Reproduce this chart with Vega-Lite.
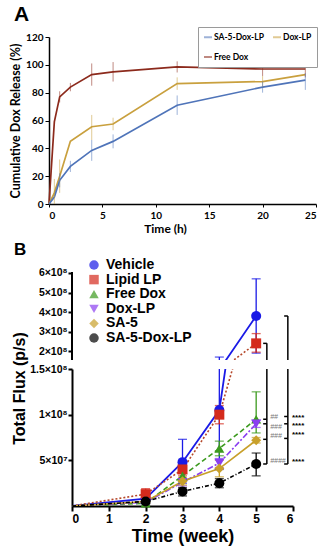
{
  "$schema": "https://vega.github.io/schema/vega-lite/v6.json",
  "background": "white",
  "padding": {"top": 3, "left": 9, "right": 2, "bottom": 2},
  "bounds": "flush",
  "center": true,
  "spacing": 9,
  "config": {
    "view": {"stroke": null},
    "axis": {"grid": false, "domainColor": "#000", "tickColor": "#000", "labelColor": "#000", "titleColor": "#000", "labelOverlap": false}
  },
  "resolve": {"scale": {"color": "independent", "shape": "independent"}},
  "datasets": {
    "rel": [
      {"s": "Free Dox", "t": 0, "v": 0, "lo": 0, "hi": 0},
      {"s": "Free Dox", "t": 0.5, "v": 59, "lo": 59, "hi": 59},
      {"s": "Free Dox", "t": 1, "v": 77, "lo": 73, "hi": 81},
      {"s": "Free Dox", "t": 2, "v": 84, "lo": 81, "hi": 87},
      {"s": "Free Dox", "t": 4, "v": 93, "lo": 85, "hi": 101},
      {"s": "Free Dox", "t": 6, "v": 95, "lo": 88, "hi": 102},
      {"s": "Free Dox", "t": 12, "v": 98.5, "lo": 94.5, "hi": 102.5},
      {"s": "Free Dox", "t": 20, "v": 97, "lo": 92, "hi": 102},
      {"s": "Free Dox", "t": 24, "v": 97, "lo": 91, "hi": 103},
      {"s": "Dox-LP", "t": 0, "v": 0, "lo": 0, "hi": 0},
      {"s": "Dox-LP", "t": 0.5, "v": 8, "lo": 0, "hi": 18},
      {"s": "Dox-LP", "t": 1, "v": 20, "lo": 8, "hi": 32},
      {"s": "Dox-LP", "t": 2, "v": 45, "lo": 45, "hi": 45},
      {"s": "Dox-LP", "t": 4, "v": 55.5, "lo": 46, "hi": 64},
      {"s": "Dox-LP", "t": 6, "v": 57.5, "lo": 53, "hi": 62},
      {"s": "Dox-LP", "t": 12, "v": 86.5, "lo": 82, "hi": 91},
      {"s": "Dox-LP", "t": 20, "v": 88, "lo": 84, "hi": 92},
      {"s": "Dox-LP", "t": 24, "v": 93, "lo": 93, "hi": 93},
      {"s": "SA-5-Dox-LP", "t": 0, "v": 0, "lo": 0, "hi": 0},
      {"s": "SA-5-Dox-LP", "t": 0.5, "v": 5, "lo": 5, "hi": 5},
      {"s": "SA-5-Dox-LP", "t": 1, "v": 17, "lo": 12, "hi": 22},
      {"s": "SA-5-Dox-LP", "t": 2, "v": 27, "lo": 23, "hi": 31},
      {"s": "SA-5-Dox-LP", "t": 4, "v": 38.5, "lo": 31, "hi": 46},
      {"s": "SA-5-Dox-LP", "t": 6, "v": 45, "lo": 40, "hi": 50},
      {"s": "SA-5-Dox-LP", "t": 12, "v": 71, "lo": 64, "hi": 78},
      {"s": "SA-5-Dox-LP", "t": 20, "v": 84, "lo": 80, "hi": 88},
      {"s": "SA-5-Dox-LP", "t": 24, "v": 89, "lo": 82, "hi": 94}
    ],
    "flux": [
      {"s": "Vehicle", "w": 0, "v": 0, "lo": 0, "hi": 0},
      {"s": "Vehicle", "w": 2, "v": 8000000, "lo": 5000000, "hi": 11000000},
      {"s": "Vehicle", "w": 3, "v": 48000000, "lo": 25000000, "hi": 73000000},
      {"s": "Vehicle", "w": 4, "v": 105000000, "lo": 40000000, "hi": 170000000},
      {"s": "Vehicle", "w": 5, "v": 380000000, "lo": 190000000, "hi": 570000000},
      {"s": "Lipid LP", "w": 0, "v": 0, "lo": 0, "hi": 0},
      {"s": "Lipid LP", "w": 2, "v": 13000000, "lo": 8000000, "hi": 19000000},
      {"s": "Lipid LP", "w": 3, "v": 40000000, "lo": 33000000, "hi": 46000000},
      {"s": "Lipid LP", "w": 4, "v": 100000000, "lo": 90000000, "hi": 110000000},
      {"s": "Lipid LP", "w": 5, "v": 240000000, "lo": 195000000, "hi": 290000000},
      {"s": "Free Dox", "w": 0, "v": 0, "lo": 0, "hi": 0},
      {"s": "Free Dox", "w": 2, "v": 3000000, "lo": 1000000, "hi": 5000000},
      {"s": "Free Dox", "w": 3, "v": 33000000, "lo": 28000000, "hi": 38000000},
      {"s": "Free Dox", "w": 4, "v": 63000000, "lo": 55000000, "hi": 71000000},
      {"s": "Free Dox", "w": 5, "v": 95000000, "lo": 80000000, "hi": 125000000},
      {"s": "Dox-LP", "w": 0, "v": 0, "lo": 0, "hi": 0},
      {"s": "Dox-LP", "w": 2, "v": 4000000, "lo": 2000000, "hi": 6000000},
      {"s": "Dox-LP", "w": 3, "v": 26000000, "lo": 22000000, "hi": 30000000},
      {"s": "Dox-LP", "w": 4, "v": 47000000, "lo": 42000000, "hi": 52000000},
      {"s": "Dox-LP", "w": 5, "v": 90000000, "lo": 86000000, "hi": 94000000},
      {"s": "SA-5", "w": 0, "v": 0, "lo": 0, "hi": 0},
      {"s": "SA-5", "w": 2, "v": 5000000, "lo": 3000000, "hi": 7000000},
      {"s": "SA-5", "w": 3, "v": 27000000, "lo": 23000000, "hi": 31000000},
      {"s": "SA-5", "w": 4, "v": 41000000, "lo": 32000000, "hi": 50000000},
      {"s": "SA-5", "w": 5, "v": 72000000, "lo": 69000000, "hi": 75000000},
      {"s": "SA-5-Dox-LP", "w": 0, "v": 0, "lo": 0, "hi": 0},
      {"s": "SA-5-Dox-LP", "w": 2, "v": 5000000, "lo": 3000000, "hi": 7000000},
      {"s": "SA-5-Dox-LP", "w": 3, "v": 16000000, "lo": 11000000, "hi": 20000000},
      {"s": "SA-5-Dox-LP", "w": 4, "v": 25000000, "lo": 20000000, "hi": 30000000},
      {"s": "SA-5-Dox-LP", "w": 5, "v": 46000000, "lo": 33000000, "hi": 58000000}
    ],
    "brk": [
      {"x1": 5.19, "x2": 5.29, "y1": 240000000, "y2": 240000000},
      {"x1": 5.29, "x2": 5.29, "y1": 240000000, "y2": 46000000},
      {"x1": 5.19, "x2": 5.29, "y1": 95000000, "y2": 95000000},
      {"x1": 5.19, "x2": 5.29, "y1": 90000000, "y2": 90000000},
      {"x1": 5.19, "x2": 5.29, "y1": 73000000, "y2": 73000000},
      {"x1": 5.19, "x2": 5.29, "y1": 46000000, "y2": 46000000},
      {"x1": 5.76, "x2": 5.86, "y1": 380000000, "y2": 380000000},
      {"x1": 5.86, "x2": 5.86, "y1": 380000000, "y2": 46000000},
      {"x1": 5.76, "x2": 5.86, "y1": 98000000, "y2": 98000000},
      {"x1": 5.76, "x2": 5.86, "y1": 90000000, "y2": 90000000},
      {"x1": 5.76, "x2": 5.86, "y1": 74000000, "y2": 74000000},
      {"x1": 5.76, "x2": 5.86, "y1": 46000000, "y2": 46000000}
    ],
    "axl": [
      {"x1": 0, "y1": 155000000, "y2": 605000000}
    ],
    "sig": [
      {"k": "h", "lab": "##", "x": 5.38, "y": 97500000},
      {"k": "h", "lab": "###", "x": 5.38, "y": 87000000},
      {"k": "h", "lab": "###", "x": 5.38, "y": 77000000},
      {"k": "h", "lab": "####", "x": 5.38, "y": 49000000},
      {"k": "a", "lab": "****", "x": 5.97, "y": 99000000},
      {"k": "a", "lab": "****", "x": 5.97, "y": 89500000},
      {"k": "a", "lab": "****", "x": 5.97, "y": 79500000},
      {"k": "a", "lab": "****", "x": 5.97, "y": 50000000}
    ]
  },
  "vconcat": [
    {
      "width": 267,
      "height": 167,
      "title": {"text": "A", "anchor": "start", "frame": "group", "dx": -35, "offset": 2, "fontSize": 21, "font": "Liberation Sans", "fontWeight": "bold", "color": "#000"},
      "data": {"name": "rel"},
      "encoding": {
        "x": {"field": "t", "type": "quantitative", "scale": {"domain": [0, 25], "nice": false},
          "axis": {"title": "Time (h)", "values": [0, 5, 10, 15, 20, 25], "labelOverlap": false, "titleX": 116, "labelFont": "Lato", "labelFontWeight": "bold", "labelFontSize": 10, "titleFont": "Lato", "titleFontWeight": "bold", "titleFontSize": 12, "tickSize": 3, "domainWidth": 1.5, "labelPadding": 3, "titlePadding": 3}},
        "y": {"field": "v", "type": "quantitative", "scale": {"domain": [0, 120], "nice": false},
          "axis": {"title": "Cumulative  Dox Release (%)", "values": [0, 20, 40, 60, 80, 100, 120], "labelOverlap": false, "labelFont": "Lato", "labelFontWeight": "bold", "labelFontSize": 10, "titleFont": "Lato", "titleFontWeight": "bold", "titleFontSize": 12.5, "tickSize": 4, "domainWidth": 1.5, "labelPadding": 2, "titlePadding": 3}},
        "color": {"field": "s", "type": "nominal", "scale": {"domain": ["SA-5-Dox-LP", "Free Dox", "Dox-LP"], "range": ["#4f74b9", "#8c2a1c", "#c9a03e"]},
          "legend": {"orient": "none", "legendX": 149, "legendY": -10, "columns": 2, "title": null, "symbolType": "stroke", "symbolSize": 64, "symbolStrokeWidth": 2, "labelFont": "Lato", "labelFontSize": 8.5, "labelFontWeight": "bold", "labelColor": "#000", "padding": 5, "strokeColor": "#9a9a9a", "fillColor": "white", "rowPadding": 10, "columnPadding": 5, "labelOffset": 1}}
      },
      "layer": [
        {
          "mark": {"type": "line", "strokeWidth": 1.7}
        },
        {
          "mark": {"type": "rule", "strokeWidth": 1, "opacity": 0.55},
          "encoding": {
            "y": {"field": "lo", "type": "quantitative", "axis": {"title": "Cumulative  Dox Release (%)", "values": [0, 20, 40, 60, 80, 100, 120], "labelOverlap": false}},
            "y2": {"field": "hi"}
          }
        }
      ]
    },
    {
      "width": 221,
      "height": 147,
      "title": {"text": "B", "anchor": "start", "frame": "group", "dx": -58, "dy": 46, "offset": 0, "fontSize": 17, "font": "Liberation Sans", "fontWeight": "bold", "color": "#000"},
      "data": {"name": "flux"},
      "encoding": {
        "x": {"field": "w", "type": "quantitative", "scale": {"domain": [0, 6], "nice": false, "zero": false}, "axis": null},
        "y": {"field": "v", "type": "quantitative", "scale": {"domain": [155000000, 906500000], "nice": false, "zero": false},
          "axis": {"title": null, "domain": false, "values": [200000000, 300000000, 400000000, 500000000, 600000000], "labelOverlap": false, "labelExpr": "(datum.value/100000000) + '×10⁸'", "labelFont": "Liberation Sans", "labelFontWeight": "bold", "labelFontSize": 10.5, "tickWidth": 2, "tickSize": 4, "labelPadding": 1}},
        "color": {"field": "s", "type": "nominal", "scale": {"domain": ["Vehicle", "Lipid LP", "Free Dox", "Dox-LP", "SA-5", "SA-5-Dox-LP"], "range": ["#1a1ae6", "#d42a1c", "#3c9a1e", "#8a3ef0", "#c8a02a", "#000000"]},
          "legend": {"orient": "none", "legendX": 15, "legendY": 45, "title": null, "labelFont": "Liberation Sans", "labelFontSize": 14, "labelFontWeight": "bold", "labelColor": "#000", "symbolSize": 90, "rowPadding": 0.6, "labelOffset": 5, "padding": 0, "symbolStrokeWidth": 0}}
      },
      "layer": [
        {"transform": [{"filter": "datum.s == 'Vehicle'"}], "mark": {"type": "line", "clip": true, "strokeWidth": 1.8}},
        {"transform": [{"filter": "datum.s == 'Lipid LP'"}], "mark": {"type": "line", "clip": true, "strokeWidth": 1.6, "strokeDash": [2, 2]}, "encoding": {"color": {"value": "#b5472a"}}},
        {"transform": [{"filter": "datum.s == 'Free Dox'"}], "mark": {"type": "line", "clip": true, "strokeWidth": 1.6, "strokeDash": [5, 3]}},
        {"transform": [{"filter": "datum.s == 'Dox-LP'"}], "mark": {"type": "line", "clip": true, "strokeWidth": 1.6, "strokeDash": [6, 2, 2, 2]}},
        {"transform": [{"filter": "datum.s == 'SA-5'"}], "mark": {"type": "line", "clip": true, "strokeWidth": 1.6}},
        {"transform": [{"filter": "datum.s == 'SA-5-Dox-LP'"}], "mark": {"type": "line", "clip": true, "strokeWidth": 1.6, "strokeDash": [4, 2, 1, 2]}},
        {
          "transform": [{"filter": "datum.w > 0"}],
          "mark": {"type": "rule", "clip": true, "strokeWidth": 1.3},
          "encoding": {
            "y": {"field": "lo", "type": "quantitative", "axis": {"title": null, "values": [200000000, 300000000, 400000000, 500000000, 600000000], "labelOverlap": false}},
            "y2": {"field": "hi"}
          }
        },
        {
          "transform": [{"filter": "datum.w > 0"}],
          "mark": {"type": "tick", "orient": "horizontal", "clip": true, "size": 9, "thickness": 1.3},
          "encoding": {
            "y": {"field": "lo", "type": "quantitative", "axis": {"title": null, "values": [200000000, 300000000, 400000000, 500000000, 600000000], "labelOverlap": false}}
          }
        },
        {
          "transform": [{"filter": "datum.w > 0"}],
          "mark": {"type": "tick", "orient": "horizontal", "clip": true, "size": 9, "thickness": 1.3},
          "encoding": {
            "y": {"field": "hi", "type": "quantitative", "axis": {"title": null, "values": [200000000, 300000000, 400000000, 500000000, 600000000], "labelOverlap": false}}
          }
        },
        {
          "transform": [{"filter": "datum.w > 0 && datum.v >= 155000000"}],
          "mark": {"type": "point", "filled": true, "opacity": 1, "size": 100},
          "encoding": {
            "shape": {"field": "s", "type": "nominal", "scale": {"domain": ["Vehicle", "Lipid LP", "Free Dox", "Dox-LP", "SA-5", "SA-5-Dox-LP"], "range": ["circle", "square", "triangle-up", "triangle-down", "diamond", "circle"]},
              "legend": {"orient": "none", "legendX": 15, "legendY": 45, "title": null, "labelFont": "Liberation Sans", "labelFontSize": 14, "labelFontWeight": "bold", "labelColor": "#000", "symbolSize": 90, "rowPadding": 0.6, "labelOffset": 5, "padding": 0, "symbolStrokeWidth": 0}}
          }
        },
        {
          "data": {"name": "brk"},
          "mark": {"type": "rule", "clip": true, "strokeWidth": 1.5},
          "encoding": {
            "x": {"field": "x1", "type": "quantitative"},
            "x2": {"field": "x2"},
            "y": {"field": "y1", "type": "quantitative", "axis": {"title": null, "values": [200000000, 300000000, 400000000, 500000000, 600000000], "labelOverlap": false}},
            "y2": {"field": "y2"},
            "color": {"value": "#000"}
          }
        },
        {
          "data": {"name": "axl"},
          "mark": {"type": "rule", "strokeWidth": 2},
          "encoding": {
            "x": {"field": "x1", "type": "quantitative"},
            "y": {"field": "y1", "type": "quantitative", "axis": {"title": null, "values": [200000000, 300000000, 400000000, 500000000, 600000000], "labelOverlap": false}},
            "y2": {"field": "y2"},
            "color": {"value": "#000"}
          }
        }
      ]
    },
    {
      "width": 221,
      "height": 137,
      "data": {"name": "flux"},
      "encoding": {
        "x": {"field": "w", "type": "quantitative", "scale": {"domain": [0, 6], "nice": false, "zero": false},
          "axis": {"title": "Time (week)", "values": [0, 1, 2, 3, 4, 5, 6], "labelOverlap": false, "format": "d", "labelFont": "Liberation Sans", "labelFontWeight": "bold", "labelFontSize": 12, "titleFont": "Liberation Sans", "titleFontWeight": "bold", "titleFontSize": 18, "domainWidth": 2, "tickWidth": 2, "tickSize": 5, "labelPadding": 2, "titlePadding": 3}},
        "y": {"field": "v", "type": "quantitative", "scale": {"domain": [0, 150000000], "nice": false},
          "axis": {"title": "Total Flux (p/s)", "values": [50000000, 100000000, 150000000], "labelOverlap": false, "labelExpr": "datum.value == 50000000 ? '5×10⁷' : datum.value == 100000000 ? '1×10⁸' : '1.5×10⁸'", "labelFont": "Liberation Sans", "labelFontWeight": "bold", "labelFontSize": 10.5, "titleFont": "Liberation Sans", "titleFontWeight": "bold", "titleFontSize": 16, "titleY": 19, "titlePadding": 2, "domainWidth": 2, "tickWidth": 2, "tickSize": 4, "labelPadding": 1}},
        "color": {"field": "s", "type": "nominal", "scale": {"domain": ["Vehicle", "Lipid LP", "Free Dox", "Dox-LP", "SA-5", "SA-5-Dox-LP"], "range": ["#1a1ae6", "#d42a1c", "#3c9a1e", "#8a3ef0", "#c8a02a", "#000000"]}, "legend": null}
      },
      "layer": [
        {"transform": [{"filter": "datum.s == 'Vehicle'"}], "mark": {"type": "line", "clip": true, "strokeWidth": 1.8}},
        {"transform": [{"filter": "datum.s == 'Lipid LP'"}], "mark": {"type": "line", "clip": true, "strokeWidth": 1.6, "strokeDash": [2, 2]}, "encoding": {"color": {"value": "#b5472a"}}},
        {"transform": [{"filter": "datum.s == 'Free Dox'"}], "mark": {"type": "line", "clip": true, "strokeWidth": 1.6, "strokeDash": [5, 3]}},
        {"transform": [{"filter": "datum.s == 'Dox-LP'"}], "mark": {"type": "line", "clip": true, "strokeWidth": 1.6, "strokeDash": [6, 2, 2, 2]}},
        {"transform": [{"filter": "datum.s == 'SA-5'"}], "mark": {"type": "line", "clip": true, "strokeWidth": 1.6}},
        {"transform": [{"filter": "datum.s == 'SA-5-Dox-LP'"}], "mark": {"type": "line", "clip": true, "strokeWidth": 1.6, "strokeDash": [4, 2, 1, 2]}},
        {
          "transform": [{"filter": "datum.w > 0"}],
          "mark": {"type": "rule", "clip": true, "strokeWidth": 1.3},
          "encoding": {
            "y": {"field": "lo", "type": "quantitative", "axis": {"title": "Total Flux (p/s)", "values": [50000000, 100000000, 150000000], "labelOverlap": false}},
            "y2": {"field": "hi"}
          }
        },
        {
          "transform": [{"filter": "datum.w > 0"}],
          "mark": {"type": "tick", "orient": "horizontal", "clip": true, "size": 9, "thickness": 1.3},
          "encoding": {
            "y": {"field": "lo", "type": "quantitative", "axis": {"title": "Total Flux (p/s)", "values": [50000000, 100000000, 150000000], "labelOverlap": false}}
          }
        },
        {
          "transform": [{"filter": "datum.w > 0"}],
          "mark": {"type": "tick", "orient": "horizontal", "clip": true, "size": 9, "thickness": 1.3},
          "encoding": {
            "y": {"field": "hi", "type": "quantitative", "axis": {"title": "Total Flux (p/s)", "values": [50000000, 100000000, 150000000], "labelOverlap": false}}
          }
        },
        {
          "transform": [{"filter": "datum.w > 0 && datum.v <= 150000000"}],
          "mark": {"type": "point", "filled": true, "opacity": 1, "size": 100},
          "encoding": {
            "shape": {"field": "s", "type": "nominal", "scale": {"domain": ["Vehicle", "Lipid LP", "Free Dox", "Dox-LP", "SA-5", "SA-5-Dox-LP"], "range": ["circle", "square", "triangle-up", "triangle-down", "diamond", "circle"]}, "legend": null}
          }
        },
        {
          "data": {"name": "brk"},
          "mark": {"type": "rule", "clip": true, "strokeWidth": 1.5},
          "encoding": {
            "x": {"field": "x1", "type": "quantitative", "axis": {"title": "Time (week)", "values": [0, 1, 2, 3, 4, 5, 6], "labelOverlap": false}},
            "x2": {"field": "x2"},
            "y": {"field": "y1", "type": "quantitative", "axis": {"title": "Total Flux (p/s)", "values": [50000000, 100000000, 150000000], "labelOverlap": false}},
            "y2": {"field": "y2"},
            "color": {"value": "#000"}
          }
        },
        {
          "data": {"name": "sig"},
          "transform": [{"filter": "datum.k == 'h'"}],
          "mark": {"type": "text", "align": "left", "baseline": "middle", "font": "Liberation Sans", "fontSize": 7, "fontStyle": "italic"},
          "encoding": {
            "x": {"field": "x", "type": "quantitative", "axis": {"title": "Time (week)", "values": [0, 1, 2, 3, 4, 5, 6], "labelOverlap": false}},
            "y": {"field": "y", "type": "quantitative", "axis": {"title": "Total Flux (p/s)", "values": [50000000, 100000000, 150000000], "labelOverlap": false}},
            "text": {"field": "lab"},
            "color": {"value": "#777"}
          }
        },
        {
          "data": {"name": "sig"},
          "transform": [{"filter": "datum.k == 'a'"}],
          "mark": {"type": "text", "align": "left", "baseline": "middle", "dy": 2, "font": "Liberation Sans", "fontSize": 8, "fontWeight": "bold"},
          "encoding": {
            "x": {"field": "x", "type": "quantitative", "axis": {"title": "Time (week)", "values": [0, 1, 2, 3, 4, 5, 6], "labelOverlap": false}},
            "y": {"field": "y", "type": "quantitative", "axis": {"title": "Total Flux (p/s)", "values": [50000000, 100000000, 150000000], "labelOverlap": false}},
            "text": {"field": "lab"},
            "color": {"value": "#000"}
          }
        }
      ]
    }
  ]
}
